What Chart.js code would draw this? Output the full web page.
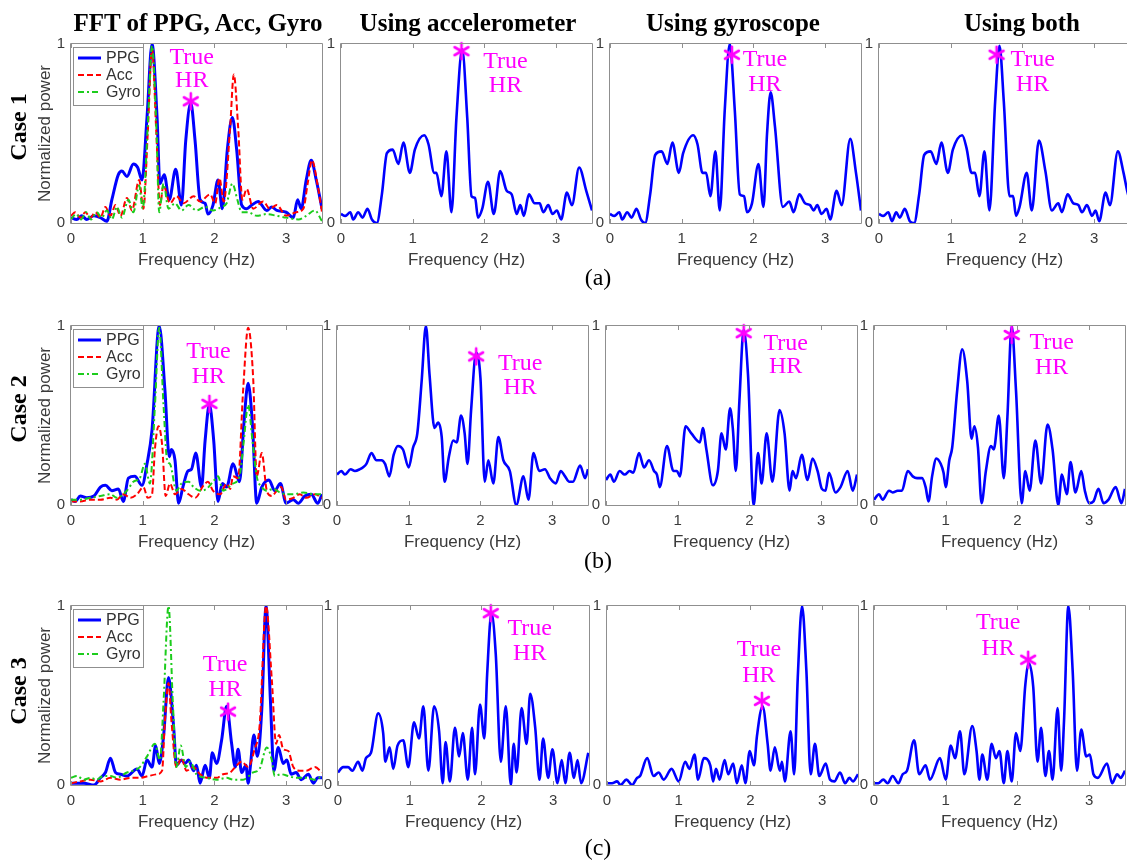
<!DOCTYPE html>
<html><head><meta charset="utf-8">
<script src="https://cdn.jsdelivr.net/npm/chart.js@4.4.1/dist/chart.umd.min.js"></script>
<style>
html,body{margin:0;padding:0;width:1127px;height:861px;overflow:hidden;background:#fff;}
#wrap{position:relative;width:1127px;height:861px;overflow:hidden;background:#fff;}
#wrap canvas{position:absolute;}
.t{position:absolute;white-space:nowrap;font-family:"Liberation Serif","Times New Roman",serif;color:#000;line-height:1;}
.col{font-weight:bold;font-size:25px;top:10px;transform:translateX(-50%);}
.case{font-weight:bold;font-size:24px;transform:translate(-50%,-50%) rotate(-90deg);}
.tag{font-size:24px;transform:translate(-50%,-50%);}
</style></head>
<body><div id="wrap"></div>
<script>
// ---------- text ----------
const colTitles = ['FFT of PPG, Acc, Gyro', 'Using accelerometer', 'Using gyroscope', 'Using both'];
const caseNames = ['Case 1', 'Case 2', 'Case 3'];
const panelTags = ['(a)', '(b)', '(c)'];
const signalNames = ['PPG', 'Acc', 'Gyro'];
const xTitle = 'Frequency (Hz)';
const yTitle = 'Normalized power';
const hrText = ['True', 'HR'];
const xTicks = [0, 1, 2, 3];
const yTicks = [0, 1];

// ---------- data: [frequency (Hz), normalized power] ----------
const case1PPG = [[0,0.03],[0.08,0.02],[0.15,0.04],[0.22,0.02],[0.32,0.04],[0.41,0.03],[0.5,0.01],[0.57,0.13],[0.66,0.27],[0.71,0.29],[0.78,0.26],[0.87,0.33],[0.93,0.31],[0.99,0.24],[1.06,0.59],[1.13,1.0],[1.2,0.59],[1.24,0.22],[1.3,0.27],[1.37,0.13],[1.46,0.3],[1.54,0.1],[1.6,0.46],[1.67,0.67],[1.73,0.46],[1.8,0.13],[1.87,0.11],[1.91,0.05],[1.98,0.1],[2.05,0.24],[2.11,0.08],[2.18,0.41],[2.25,0.59],[2.31,0.41],[2.38,0.1],[2.45,0.08],[2.52,0.1],[2.61,0.12],[2.73,0.07],[2.8,0.09],[2.87,0.07],[3.0,0.06],[3.1,0.03],[3.16,0.13],[3.21,0.08],[3.28,0.24],[3.35,0.35],[3.42,0.24],[3.5,0.08]];
const case1Acc = [[0,0.04],[0.06,0.06],[0.13,0.03],[0.2,0.06],[0.27,0.03],[0.34,0.06],[0.41,0.03],[0.48,0.09],[0.55,0.04],[0.62,0.1],[0.69,0.04],[0.78,0.14],[0.85,0.07],[0.95,0.24],[1.01,0.08],[1.07,0.5],[1.13,0.97],[1.19,0.5],[1.24,0.1],[1.29,0.21],[1.38,0.11],[1.47,0.15],[1.57,0.11],[1.71,0.15],[1.8,0.12],[1.94,0.16],[2.01,0.11],[2.07,0.25],[2.13,0.12],[2.22,0.54],[2.27,0.83],[2.33,0.54],[2.39,0.13],[2.45,0.19],[2.54,0.08],[2.68,0.12],[2.77,0.08],[2.87,0.1],[3.0,0.04],[3.14,0.06],[3.24,0.08],[3.3,0.22],[3.36,0.35],[3.44,0.21],[3.5,0.06]];
const case1Gyro = [[0,0.02],[0.07,0.05],[0.14,0.02],[0.21,0.06],[0.28,0.02],[0.36,0.06],[0.43,0.03],[0.5,0.07],[0.57,0.02],[0.64,0.09],[0.71,0.03],[0.8,0.13],[0.87,0.06],[0.95,0.21],[1.0,0.08],[1.07,0.54],[1.13,0.99],[1.19,0.54],[1.23,0.06],[1.29,0.22],[1.36,0.08],[1.45,0.11],[1.54,0.07],[1.64,0.1],[1.75,0.07],[1.87,0.09],[1.98,0.07],[2.1,0.09],[2.17,0.11],[2.25,0.22],[2.32,0.13],[2.38,0.06],[2.47,0.06],[2.59,0.04],[2.73,0.05],[2.87,0.04],[3.0,0.03],[3.17,0.02],[3.28,0.04],[3.4,0.07],[3.5,0.01]];
const case1UsingAcc = [[0,0.05],[0.06,0.04],[0.13,0.06],[0.17,0.02],[0.24,0.06],[0.3,0.03],[0.37,0.08],[0.43,0.02],[0.5,0.0],[0.57,0.16],[0.64,0.39],[0.72,0.41],[0.8,0.33],[0.87,0.45],[0.96,0.28],[1.03,0.41],[1.16,0.49],[1.22,0.44],[1.3,0.28],[1.33,0.28],[1.4,0.15],[1.47,0.4],[1.54,0.06],[1.61,0.59],[1.69,0.97],[1.76,0.59],[1.82,0.15],[1.87,0.14],[1.91,0.03],[1.97,0.08],[2.05,0.23],[2.13,0.05],[2.22,0.29],[2.31,0.18],[2.38,0.16],[2.45,0.05],[2.5,0.1],[2.55,0.04],[2.62,0.16],[2.7,0.11],[2.77,0.11],[2.82,0.06],[2.89,0.1],[2.95,0.05],[3.01,0.07],[3.07,0.02],[3.15,0.17],[3.22,0.1],[3.32,0.31],[3.42,0.18],[3.5,0.07]];
const case1UsingGyro = [[0,0.05],[0.06,0.04],[0.13,0.06],[0.17,0.02],[0.24,0.06],[0.3,0.03],[0.37,0.08],[0.43,0.02],[0.49,0.0],[0.56,0.16],[0.63,0.38],[0.72,0.4],[0.8,0.33],[0.87,0.45],[0.96,0.28],[1.02,0.39],[1.16,0.49],[1.22,0.44],[1.29,0.28],[1.34,0.28],[1.4,0.15],[1.47,0.4],[1.53,0.07],[1.6,0.63],[1.67,1.0],[1.74,0.63],[1.81,0.16],[1.87,0.15],[1.91,0.06],[1.98,0.11],[2.07,0.33],[2.14,0.09],[2.19,0.5],[2.24,0.73],[2.3,0.54],[2.41,0.09],[2.5,0.12],[2.56,0.06],[2.64,0.16],[2.72,0.11],[2.79,0.1],[2.84,0.07],[2.89,0.1],[2.95,0.05],[3.02,0.08],[3.07,0.02],[3.16,0.18],[3.23,0.1],[3.35,0.47],[3.43,0.28],[3.5,0.07]];
const case1UsingBoth = [[0,0.05],[0.06,0.04],[0.13,0.06],[0.18,0.01],[0.24,0.06],[0.29,0.03],[0.36,0.08],[0.43,0.01],[0.49,0.0],[0.56,0.16],[0.63,0.38],[0.72,0.4],[0.8,0.33],[0.87,0.45],[0.96,0.28],[1.03,0.41],[1.16,0.49],[1.22,0.42],[1.29,0.28],[1.34,0.28],[1.4,0.15],[1.47,0.4],[1.54,0.07],[1.62,0.68],[1.68,0.99],[1.74,0.68],[1.82,0.15],[1.87,0.15],[1.91,0.04],[1.96,0.09],[2.06,0.28],[2.13,0.07],[2.23,0.46],[2.32,0.29],[2.41,0.07],[2.5,0.11],[2.55,0.06],[2.63,0.16],[2.71,0.11],[2.78,0.1],[2.83,0.06],[2.9,0.1],[2.97,0.04],[3.02,0.07],[3.07,0.01],[3.16,0.17],[3.22,0.1],[3.33,0.4],[3.41,0.28],[3.46,0.18],[3.5,0.12]];
const case1Star = [[1.67,0.68],[1.68,0.96],[1.70,0.94],[1.64,0.94]];

const case2PPG = [[0,0.03],[0.06,0.02],[0.13,0.05],[0.22,0.04],[0.32,0.05],[0.41,0.1],[0.48,0.11],[0.57,0.08],[0.66,0.09],[0.73,0.02],[0.8,0.15],[0.89,0.16],[0.99,0.11],[1.06,0.23],[1.13,0.42],[1.23,1.0],[1.31,0.64],[1.37,0.27],[1.4,0.31],[1.45,0.25],[1.5,0.01],[1.56,0.1],[1.63,0.19],[1.68,0.2],[1.74,0.29],[1.82,0.1],[1.87,0.36],[1.93,0.56],[1.99,0.36],[2.05,0.02],[2.11,0.12],[2.17,0.1],[2.26,0.23],[2.35,0.13],[2.41,0.45],[2.47,0.68],[2.53,0.45],[2.59,0.01],[2.66,0.1],[2.76,0.14],[2.84,0.08],[2.92,0.12],[3.0,0.01],[3.1,0.03],[3.17,0.01],[3.26,0.05],[3.35,0.06],[3.44,0.01],[3.5,0.06]];
const case2Acc = [[0,0.02],[0.13,0.02],[0.27,0.03],[0.41,0.03],[0.55,0.04],[0.64,0.03],[0.73,0.06],[0.83,0.04],[0.92,0.06],[1.01,0.1],[1.07,0.04],[1.13,0.06],[1.17,0.31],[1.22,0.44],[1.27,0.34],[1.32,0.05],[1.38,0.12],[1.45,0.06],[1.54,0.09],[1.64,0.06],[1.73,0.04],[1.85,0.11],[1.91,0.13],[1.98,0.08],[2.08,0.06],[2.17,0.12],[2.22,0.09],[2.26,0.16],[2.33,0.15],[2.4,0.64],[2.47,0.99],[2.54,0.71],[2.59,0.16],[2.66,0.29],[2.73,0.08],[2.8,0.05],[2.87,0.08],[2.93,0.1],[3.0,0.03],[3.1,0.04],[3.19,0.06],[3.28,0.04],[3.4,0.06],[3.5,0.04]];
const case2Gyro = [[0,0.03],[0.13,0.03],[0.27,0.04],[0.41,0.05],[0.55,0.06],[0.64,0.04],[0.78,0.08],[0.87,0.13],[0.96,0.15],[1.03,0.23],[1.1,0.12],[1.17,0.55],[1.23,0.99],[1.29,0.56],[1.34,0.25],[1.38,0.23],[1.47,0.08],[1.54,0.12],[1.64,0.13],[1.71,0.1],[1.8,0.08],[1.89,0.09],[1.98,0.13],[2.05,0.16],[2.12,0.08],[2.26,0.12],[2.35,0.16],[2.41,0.36],[2.47,0.56],[2.53,0.36],[2.59,0.16],[2.66,0.1],[2.73,0.08],[2.82,0.09],[2.91,0.07],[3.0,0.06],[3.1,0.06],[3.24,0.07],[3.38,0.06],[3.5,0.06]];
const case2UsingAcc = [[0,0.17],[0.06,0.19],[0.11,0.17],[0.19,0.2],[0.25,0.19],[0.32,0.2],[0.36,0.21],[0.41,0.23],[0.48,0.29],[0.55,0.25],[0.62,0.25],[0.67,0.23],[0.73,0.16],[0.79,0.28],[0.85,0.33],[0.92,0.31],[1.0,0.21],[1.06,0.32],[1.12,0.4],[1.18,0.69],[1.24,1.0],[1.29,0.73],[1.36,0.43],[1.41,0.46],[1.46,0.38],[1.5,0.13],[1.56,0.27],[1.62,0.36],[1.67,0.35],[1.73,0.5],[1.78,0.4],[1.82,0.23],[1.87,0.53],[1.94,0.85],[2.0,0.71],[2.06,0.13],[2.11,0.25],[2.18,0.12],[2.25,0.38],[2.32,0.25],[2.41,0.19],[2.5,0.0],[2.6,0.16],[2.67,0.03],[2.74,0.29],[2.82,0.19],[2.9,0.2],[2.97,0.15],[3.05,0.12],[3.12,0.19],[3.18,0.16],[3.24,0.13],[3.29,0.13],[3.39,0.22],[3.46,0.15],[3.5,0.2]];
const case2UsingGyro = [[0,0.14],[0.06,0.17],[0.11,0.13],[0.19,0.19],[0.26,0.17],[0.33,0.19],[0.38,0.18],[0.46,0.29],[0.53,0.21],[0.6,0.25],[0.67,0.19],[0.71,0.17],[0.75,0.1],[0.85,0.33],[0.94,0.19],[0.99,0.19],[1.03,0.16],[1.11,0.44],[1.19,0.4],[1.31,0.35],[1.35,0.43],[1.4,0.31],[1.49,0.11],[1.56,0.19],[1.61,0.4],[1.67,0.31],[1.73,0.54],[1.77,0.42],[1.81,0.19],[1.86,0.58],[1.92,0.98],[1.98,0.73],[2.06,0.0],[2.12,0.29],[2.17,0.12],[2.24,0.4],[2.32,0.13],[2.42,0.53],[2.49,0.4],[2.56,0.08],[2.6,0.19],[2.65,0.15],[2.73,0.28],[2.81,0.14],[2.88,0.26],[2.95,0.19],[3.01,0.09],[3.06,0.08],[3.11,0.18],[3.2,0.07],[3.27,0.1],[3.37,0.19],[3.44,0.08],[3.5,0.17]];
const case2UsingBoth = [[0,0.03],[0.07,0.06],[0.12,0.03],[0.21,0.08],[0.26,0.07],[0.33,0.08],[0.39,0.08],[0.47,0.19],[0.54,0.16],[0.6,0.15],[0.67,0.15],[0.72,0.1],[0.76,0.02],[0.81,0.16],[0.87,0.26],[0.93,0.23],[0.97,0.18],[1.0,0.1],[1.05,0.25],[1.09,0.32],[1.16,0.64],[1.23,0.87],[1.3,0.69],[1.36,0.37],[1.4,0.44],[1.45,0.32],[1.5,0.01],[1.56,0.19],[1.63,0.33],[1.67,0.31],[1.74,0.5],[1.81,0.15],[1.86,0.49],[1.92,1.0],[1.98,0.64],[2.06,0.01],[2.11,0.19],[2.17,0.08],[2.25,0.36],[2.33,0.12],[2.42,0.45],[2.49,0.31],[2.57,0.0],[2.62,0.17],[2.69,0.06],[2.74,0.24],[2.81,0.07],[2.89,0.19],[2.94,0.08],[3.0,0.01],[3.06,0.02],[3.13,0.09],[3.2,0.01],[3.27,0.03],[3.37,0.1],[3.45,0.01],[3.5,0.09]];
const case2Star = [[1.93,0.565],[1.94,0.83],[1.92,0.96],[1.92,0.95]];

const case3PPG = [[0,0.01],[0.08,0.01],[0.18,0.01],[0.32,0.0],[0.41,0.04],[0.48,0.07],[0.55,0.15],[0.62,0.07],[0.69,0.06],[0.78,0.05],[0.92,0.09],[0.99,0.05],[1.06,0.14],[1.13,0.1],[1.18,0.22],[1.23,0.12],[1.29,0.27],[1.36,0.6],[1.43,0.33],[1.47,0.11],[1.54,0.14],[1.59,0.12],[1.64,0.14],[1.71,0.08],[1.75,0.11],[1.8,0.01],[1.87,0.11],[1.93,0.04],[1.97,0.18],[2.03,0.12],[2.1,0.25],[2.17,0.44],[2.24,0.23],[2.29,0.1],[2.33,0.2],[2.38,0.07],[2.44,0.11],[2.47,0.01],[2.5,0.1],[2.55,0.28],[2.6,0.16],[2.66,0.42],[2.72,1.0],[2.78,0.48],[2.83,0.08],[2.89,0.21],[2.96,0.12],[3.01,0.14],[3.07,0.06],[3.14,0.07],[3.21,0.03],[3.31,0.06],[3.38,0.01],[3.44,0.04],[3.5,0.04]];
const case3Acc = [[0,0.01],[0.13,0.02],[0.27,0.03],[0.41,0.02],[0.55,0.04],[0.69,0.03],[0.83,0.04],[0.96,0.04],[1.08,0.05],[1.2,0.06],[1.27,0.08],[1.31,0.36],[1.36,0.57],[1.4,0.36],[1.47,0.1],[1.54,0.15],[1.61,0.08],[1.71,0.1],[1.8,0.06],[1.91,0.04],[2.03,0.04],[2.12,0.06],[2.22,0.07],[2.29,0.1],[2.38,0.13],[2.47,0.1],[2.56,0.2],[2.63,0.33],[2.72,1.0],[2.8,0.59],[2.86,0.23],[2.9,0.28],[2.96,0.2],[3.03,0.19],[3.1,0.1],[3.19,0.08],[3.28,0.08],[3.4,0.1],[3.5,0.07]];
const case3Gyro = [[0,0.04],[0.08,0.05],[0.18,0.03],[0.27,0.04],[0.36,0.03],[0.45,0.05],[0.55,0.05],[0.64,0.04],[0.78,0.07],[0.87,0.08],[0.96,0.1],[1.06,0.16],[1.17,0.23],[1.24,0.14],[1.29,0.46],[1.36,1.0],[1.42,0.46],[1.47,0.1],[1.53,0.22],[1.6,0.1],[1.66,0.13],[1.75,0.06],[1.89,0.04],[2.03,0.03],[2.17,0.04],[2.26,0.03],[2.4,0.03],[2.54,0.07],[2.63,0.09],[2.73,0.21],[2.8,0.14],[2.84,0.05],[2.93,0.06],[3.03,0.05],[3.14,0.04],[3.28,0.04],[3.4,0.03],[3.5,0.05]];
const case3UsingAcc = [[0,0.07],[0.07,0.1],[0.14,0.1],[0.2,0.08],[0.28,0.13],[0.34,0.08],[0.39,0.15],[0.46,0.18],[0.56,0.4],[0.63,0.29],[0.66,0.13],[0.72,0.21],[0.77,0.09],[0.83,0.22],[0.91,0.25],[0.98,0.1],[1.06,0.35],[1.13,0.26],[1.19,0.44],[1.26,0.08],[1.34,0.44],[1.41,0.3],[1.46,0.01],[1.5,0.24],[1.56,0.02],[1.63,0.32],[1.69,0.16],[1.74,0.29],[1.81,0.03],[1.87,0.32],[1.91,0.06],[1.98,0.45],[2.04,0.26],[2.08,0.62],[2.14,0.96],[2.2,0.73],[2.27,0.13],[2.34,0.44],[2.41,0.0],[2.45,0.23],[2.49,0.07],[2.56,0.43],[2.63,0.23],[2.68,0.51],[2.75,0.32],[2.81,0.03],[2.86,0.26],[2.93,0.04],[2.99,0.2],[3.06,0.01],[3.12,0.14],[3.17,0.01],[3.23,0.18],[3.29,0.04],[3.34,0.14],[3.39,0.01],[3.49,0.18]];
const case3UsingGyro = [[0,0.01],[0.07,0.01],[0.14,0.02],[0.19,0.0],[0.27,0.03],[0.35,0.0],[0.42,0.04],[0.46,0.05],[0.56,0.15],[0.65,0.05],[0.72,0.07],[0.79,0.03],[0.9,0.09],[1.0,0.02],[1.09,0.13],[1.15,0.09],[1.22,0.17],[1.27,0.03],[1.35,0.15],[1.44,0.11],[1.48,0.02],[1.52,0.09],[1.57,0.03],[1.64,0.14],[1.69,0.06],[1.76,0.12],[1.81,0.01],[1.88,0.11],[1.93,0.01],[1.99,0.19],[2.05,0.11],[2.09,0.27],[2.17,0.44],[2.24,0.23],[2.28,0.08],[2.34,0.21],[2.41,0.08],[2.44,0.13],[2.48,0.02],[2.56,0.3],[2.61,0.06],[2.66,0.6],[2.72,1.0],[2.78,0.64],[2.84,0.06],[2.9,0.23],[2.96,0.05],[3.05,0.12],[3.11,0.03],[3.17,0.02],[3.25,0.07],[3.32,0.01],[3.38,0.04],[3.43,0.02],[3.5,0.06]];
const case3UsingBoth = [[0,0.01],[0.06,0.01],[0.13,0.03],[0.19,0.01],[0.26,0.05],[0.34,0.01],[0.4,0.06],[0.46,0.08],[0.56,0.25],[0.63,0.06],[0.72,0.11],[0.78,0.03],[0.92,0.15],[1.0,0.03],[1.07,0.22],[1.13,0.15],[1.2,0.3],[1.26,0.06],[1.37,0.33],[1.43,0.19],[1.47,0.03],[1.51,0.17],[1.58,0.03],[1.64,0.23],[1.7,0.15],[1.75,0.19],[1.81,0.01],[1.86,0.19],[1.92,0.02],[1.98,0.29],[2.04,0.19],[2.11,0.56],[2.16,0.68],[2.22,0.55],[2.28,0.13],[2.33,0.32],[2.39,0.05],[2.44,0.19],[2.49,0.03],[2.56,0.43],[2.61,0.08],[2.65,0.36],[2.71,1.0],[2.77,0.64],[2.83,0.08],[2.89,0.31],[2.96,0.16],[3.01,0.17],[3.06,0.06],[3.12,0.04],[3.25,0.12],[3.32,0.01],[3.39,0.06],[3.44,0.04],[3.5,0.08]];
const case3Star = [[2.19,0.41],[2.13,0.96],[2.16,0.47],[2.15,0.70]];

// ---------- layout & styles (not data) ----------
const SANS = '"Liberation Sans", Arial, Helvetica, sans-serif';
const SERIF = '"Liberation Serif", "Times New Roman", serif';
const LAYOUT = {
  rowTop: [43, 325, 605],
  colLeft: [[71, 341, 610, 879], [71, 337, 606, 874], [71, 338, 607, 874]],
  plotW: 252, plotH: 180
};
const TITLE_X = [198, 468, 733, 1022];
const CASE_Y = [127, 409, 691];
const TAG_POS = [[598, 277], [598, 560], [598, 847]];
// pixel offsets of the "True"/"HR" lines relative to the star marker: [dx, dyTrue, dyHR]
const HR_OFFSET = [
  [[1, -44, -21], [44, 11, 35], [33, 5, 30], [36, 5, 30]],
  [[-1, -52, -27], [44, 7, 31], [42, 11, 34], [40, 8, 33]],
  [[-3, -47, -22], [39, 16, 41], [-3, -51, -25], [-30, -37, -11]]
];
const SIGNAL_STYLE = [
  {color: '#0000ff', width: 3, dash: []},
  {color: '#ff0000', width: 2, dash: [6, 3]},
  {color: '#1ccc1c', width: 2, dash: [6, 3, 2, 3]}
];
const CASES = [
  {signals: [case1PPG, case1Acc, case1Gyro], results: [case1UsingAcc, case1UsingGyro, case1UsingBoth], star: case1Star},
  {signals: [case2PPG, case2Acc, case2Gyro], results: [case2UsingAcc, case2UsingGyro, case2UsingBoth], star: case2Star},
  {signals: [case3PPG, case3Acc, case3Gyro], results: [case3UsingAcc, case3UsingGyro, case3UsingBoth], star: case3Star}
];

const wrap = document.getElementById('wrap');
const toXY = arr => arr.map(p => ({x: p[0], y: p[1]}));

function makeStar() {
  const s = document.createElement('canvas');
  s.width = 20; s.height = 20;
  const g = s.getContext('2d');
  g.strokeStyle = '#ff00ff'; g.lineWidth = 2.6; g.lineCap = 'round';
  const c = 10, R = 8;
  [90, 30, -30].forEach(deg => {
    const t = deg * Math.PI / 180;
    g.beginPath();
    g.moveTo(c - R * Math.cos(t), c - R * Math.sin(t));
    g.lineTo(c + R * Math.cos(t), c + R * Math.sin(t));
    g.stroke();
  });
  return s;
}
const starImg = makeStar();

const framePlugin = {
  id: 'frame',
  afterDatasetsDraw(chart) {
    const {ctx, chartArea: a, scales: {x}} = chart;
    ctx.save();
    ctx.strokeStyle = '#8f8f8f';
    ctx.lineWidth = 1;
    ctx.setLineDash([]);
    ctx.beginPath();
    ctx.rect(a.left - 0.5, a.top - 0.5, a.right - a.left + 1, a.bottom - a.top + 1);
    x.ticks.forEach(t => {
      const px = Math.round(x.getPixelForValue(t.value)) + 0.5;
      ctx.moveTo(px, a.bottom); ctx.lineTo(px, a.bottom - 4);
      ctx.moveTo(px, a.top); ctx.lineTo(px, a.top + 4);
    });
    ctx.stroke();
    ctx.restore();
  }
};

function legendPlugin() {
  return {
    id: 'sigLegend',
    afterDatasetsDraw(chart) {
      const {ctx, chartArea: a} = chart;
      const x0 = a.left + 2, y0 = a.top + 3, w = 70, h = 58;
      ctx.save();
      ctx.fillStyle = '#fff';
      ctx.fillRect(x0, y0, w, h);
      ctx.strokeStyle = '#8f8f8f'; ctx.lineWidth = 1;
      ctx.strokeRect(x0 + 0.5, y0 + 0.5, w, h);
      chart.data.datasets.slice(0, signalNames.length).forEach((d, i) => {
        const yy = y0 + 11 + i * 17;
        ctx.strokeStyle = d.borderColor; ctx.lineWidth = d.borderWidth;
        ctx.setLineDash(d.borderDash || []);
        ctx.beginPath(); ctx.moveTo(x0 + 5, yy); ctx.lineTo(x0 + 28, yy); ctx.stroke();
        ctx.setLineDash([]);
        ctx.fillStyle = '#333'; ctx.font = '16px ' + SANS;
        ctx.textAlign = 'left'; ctx.textBaseline = 'middle';
        ctx.fillText(d.label, x0 + 33, yy + 1);
      });
      ctx.restore();
    }
  };
}

function hrPlugin(star, off) {
  return {
    id: 'hrText',
    afterDraw(chart) {
      const {ctx, scales: {x, y}} = chart;
      const px = x.getPixelForValue(star[0]), py = y.getPixelForValue(star[1]);
      ctx.save();
      ctx.fillStyle = '#ff00ff'; ctx.font = '24px ' + SERIF;
      ctx.textAlign = 'center'; ctx.textBaseline = 'middle';
      hrText.forEach((s, i) => ctx.fillText(s, px + off[0], py + off[i + 1]));
      ctx.restore();
    }
  };
}

function buildPanel(r, c) {
  const left = LAYOUT.colLeft[r][c], top = LAYOUT.rowTop[r];
  const padL = c === 0 ? 46 : 30, padR = 8, padT = 14, padB = 50;
  const W = LAYOUT.plotW + padL + padR, H = LAYOUT.plotH + padT + padB;
  const cv = document.createElement('canvas');
  cv.width = W; cv.height = H;
  Object.assign(cv.style, {left: (left - padL) + 'px', top: (top - padT) + 'px', width: W + 'px', height: H + 'px'});
  wrap.appendChild(cv);
  const cs = CASES[r];
  const base = {pointRadius: 0, fill: false, cubicInterpolationMode: 'monotone', borderJoinStyle: 'round'};
  const datasets = [];
  if (c === 0) {
    signalNames.forEach((name, i) => datasets.push(Object.assign({}, base, {
      label: name, data: toXY(cs.signals[i]), borderColor: SIGNAL_STYLE[i].color,
      borderWidth: SIGNAL_STYLE[i].width, borderDash: SIGNAL_STYLE[i].dash, order: 3 - i
    })));
  } else {
    datasets.push(Object.assign({}, base, {
      label: colTitles[c], data: toXY(cs.results[c - 1]), borderColor: '#0000ff', borderWidth: 2.6, order: 3
    }));
  }
  const star = cs.star[c];
  datasets.push({
    label: hrText.join(' '), data: [{x: star[0], y: star[1]}], showLine: false,
    pointStyle: starImg, pointRadius: 8, pointHoverRadius: 8, clip: false, order: 0
  });
  const plugins = [framePlugin];
  if (c === 0) plugins.push(legendPlugin());
  plugins.push(hrPlugin(star, HR_OFFSET[r][c]));
  new Chart(cv, {
    type: 'line',
    data: {datasets},
    plugins,
    options: {
      responsive: false, animation: false, devicePixelRatio: 1, events: [],
      layout: {padding: {left: 0, right: padR, top: padT, bottom: 0}},
      plugins: {legend: {display: false}, tooltip: {enabled: false}},
      scales: {
        x: {
          type: 'linear', min: 0, max: 3.5,
          grid: {display: false, drawTicks: false}, border: {display: false},
          ticks: {padding: 7, color: '#3a3a3a', font: {family: SANS, size: 15}, autoSkip: false, maxRotation: 0},
          title: {display: true, text: xTitle, color: '#3a3a3a', font: {family: SANS, size: 17}, padding: {top: 0, bottom: 2}},
          afterBuildTicks: s => { s.ticks = xTicks.map(v => ({value: v})); },
          afterFit: s => { s.height = padB; }
        },
        y: {
          type: 'linear', min: 0, max: 1,
          grid: {display: false, drawTicks: false}, border: {display: false},
          ticks: {padding: 6, color: '#3a3a3a', font: {family: SANS, size: 15}},
          title: {display: c === 0, text: yTitle, color: '#3a3a3a', font: {family: SANS, size: 17}, padding: {top: 10, bottom: 0}},
          afterBuildTicks: s => { s.ticks = yTicks.map(v => ({value: v})); },
          afterFit: s => { s.width = padL; }
        }
      }
    }
  });
}

for (let r = 0; r < 3; r++) for (let c = 0; c < 4; c++) buildPanel(r, c);

function addText(cls, txt, x, y) {
  const d = document.createElement('div');
  d.className = 't ' + cls;
  d.textContent = txt;
  d.style.left = x + 'px';
  if (y !== null) d.style.top = y + 'px';
  wrap.appendChild(d);
}
colTitles.forEach((t, i) => addText('col', t, TITLE_X[i], null));
caseNames.forEach((t, i) => addText('case', t, 18, CASE_Y[i]));
panelTags.forEach((t, i) => addText('tag', t, TAG_POS[i][0], TAG_POS[i][1]));
</script>
</body></html>
